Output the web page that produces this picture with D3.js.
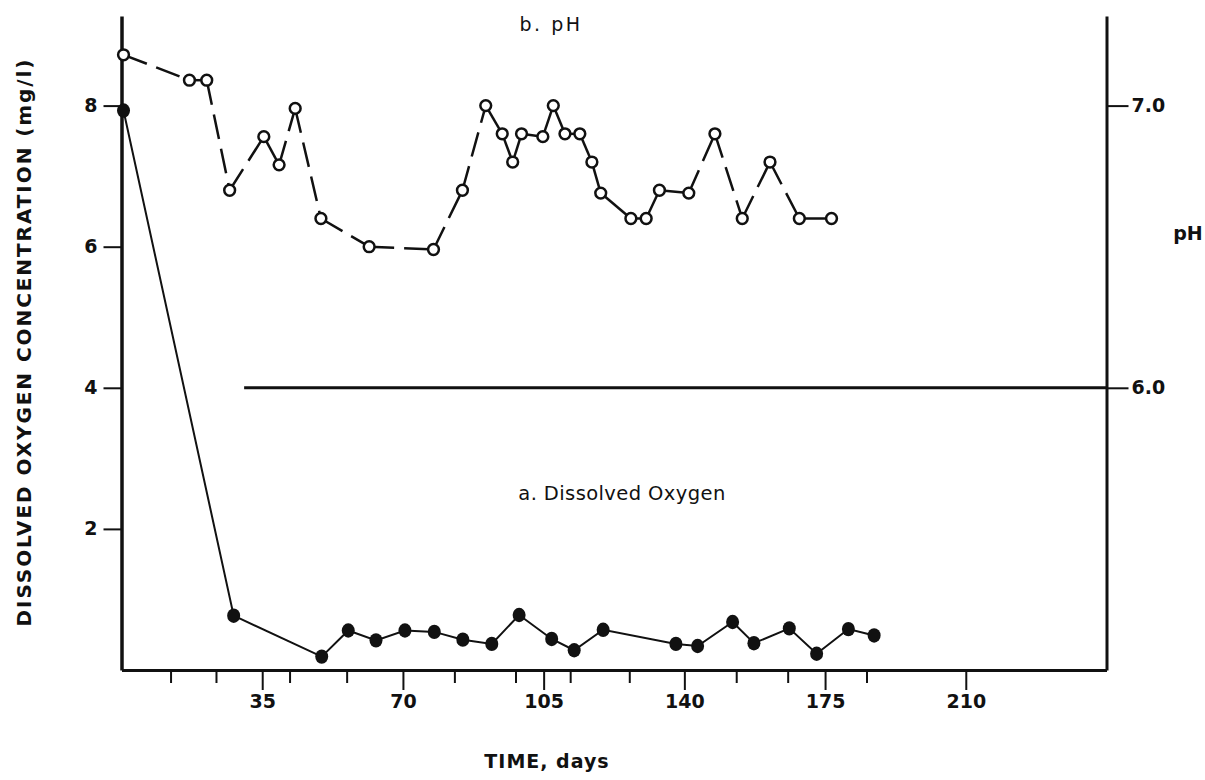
<!DOCTYPE html>
<html>
<head>
<meta charset="utf-8">
<script src="https://cdn.jsdelivr.net/npm/d3@7"></script>
<style>
  html, body { margin: 0; padding: 0; background: #fff; }
  svg { display: block; }
  text { fill: #111; }
</style>
</head>
<body>
<script>
// Sampling days and measurements
const doDays = [0.5, 27.9, 49.8, 56.4, 63.3, 70.5, 77.8, 84.9, 92.1, 98.9, 107.0, 112.6, 119.8, 137.9, 143.3, 152.0, 157.3, 166.1, 172.9, 180.8, 187.2];
const doValues = [7.93, 0.77, 0.19, 0.56, 0.42, 0.56, 0.54, 0.43, 0.37, 0.78, 0.44, 0.28, 0.57, 0.37, 0.34, 0.68, 0.38, 0.59, 0.23, 0.58, 0.49];

const phDays = [0.5, 16.9, 21.2, 26.9, 35.4, 39.2, 43.2, 49.6, 61.6, 77.6, 84.8, 90.6, 94.7, 97.3, 99.5, 104.8, 107.4, 110.3, 114.0, 117.0, 119.2, 126.7, 130.5, 133.8, 141.1, 147.6, 154.4, 161.3, 168.6, 176.6];
const phValues = [7.18, 7.09, 7.09, 6.70, 6.89, 6.79, 6.99, 6.60, 6.50, 6.49, 6.70, 7.00, 6.90, 6.80, 6.90, 6.89, 7.00, 6.90, 6.90, 6.80, 6.69, 6.60, 6.60, 6.70, 6.69, 6.90, 6.60, 6.80, 6.60, 6.60];

// Axis ticks
const dayTicks = [35, 70, 105, 140, 175, 210];
const dayMinorTicks = [12.2, 23.5, 41.8, 56, 82.8, 98, 111.6, 126.3, 152.9, 165.7, 185.3];
const doTicks = [2, 4, 6, 8];
const phTicks = [6.0, 7.0];
const phReference = 6.0;
const phReferenceStart = 30.5;

const W = 1205, H = 780;
const svg = d3.select("body").append("svg").attr("width", W).attr("height", H);

const x = d3.scaleLinear().domain([0, 245]).range([121.5, 1106.5]);
const yDO = d3.scaleLinear().domain([0, 9.27]).range([670, 16]);
const yPH = d3.scaleLinear().domain([5, 5 + 9.27 / 4]).range([670, 16]);

const FONT = "DejaVu Sans, sans-serif";

// Left axis: dissolved oxygen
const gL = svg.append("g").attr("transform", `translate(${x(0)},0)`)
  .call(d3.axisLeft(yDO).tickValues(doTicks).tickSize(18).tickSizeOuter(0).tickPadding(6).tickFormat(d3.format("d")));
gL.select(".domain").attr("stroke", "#111").attr("stroke-width", 3.5);
gL.selectAll(".tick line").attr("stroke", "#111").attr("stroke-width", 2);
gL.selectAll(".tick text").attr("font-family", FONT).attr("font-weight", "bold").attr("font-size", 19).attr("fill", "#111");

// Right axis: pH
const gR = svg.append("g").attr("transform", `translate(${x(245)},0)`)
  .call(d3.axisRight(yPH).tickValues(phTicks).tickSize(22).tickSizeOuter(0).tickPadding(3).tickFormat(d3.format(".1f")));
gR.select(".domain").attr("stroke", "#111").attr("stroke-width", 3);
gR.selectAll(".tick line").attr("stroke", "#111").attr("stroke-width", 2);
gR.selectAll(".tick text").attr("font-family", FONT).attr("font-weight", "bold").attr("font-size", 19).attr("fill", "#111");

// Bottom axis: time in days
const gB = svg.append("g").attr("transform", `translate(0,${yDO(0)})`)
  .call(d3.axisBottom(x).tickValues(dayTicks).tickSize(20).tickSizeOuter(0).tickPadding(5).tickFormat(d3.format("d")));
gB.select(".domain").attr("stroke", "#111").attr("stroke-width", 3.2);
gB.selectAll(".tick line").attr("stroke", "#111").attr("stroke-width", 2);
gB.selectAll(".tick text").attr("font-family", FONT).attr("font-weight", "bold").attr("font-size", 19).attr("fill", "#111");

const gBm = svg.append("g").attr("transform", `translate(0,${yDO(0)})`)
  .call(d3.axisBottom(x).tickValues(dayMinorTicks).tickSize(13).tickSizeOuter(0).tickFormat(""));
gBm.select(".domain").remove();
gBm.selectAll(".tick line").attr("stroke", "#111").attr("stroke-width", 2);

// pH 6.0 reference line
svg.append("line")
  .attr("x1", x(phReferenceStart)).attr("x2", x(245))
  .attr("y1", yPH(phReference)).attr("y2", yPH(phReference))
  .attr("stroke", "#111").attr("stroke-width", 3);

// Dissolved oxygen series
const doPts = doDays.map((d, i) => [x(d), yDO(doValues[i])]);
svg.append("path")
  .attr("d", d3.line()(doPts))
  .attr("fill", "none").attr("stroke", "#111").attr("stroke-width", 2);
svg.append("g").selectAll("ellipse").data(doPts).join("ellipse")
  .attr("cx", d => d[0]).attr("cy", d => d[1])
  .attr("rx", 6.5).attr("ry", 7.2)
  .attr("fill", "#111");

// pH series: long gaps between samples are drawn dashed
const phPts = phDays.map((d, i) => [x(d), yPH(phValues[i])]);
const segs = d3.pairs(phPts);
svg.append("g").selectAll("line").data(segs).join("line")
  .attr("x1", d => d[0][0]).attr("y1", d => d[0][1])
  .attr("x2", d => d[1][0]).attr("y2", d => d[1][1])
  .attr("stroke", "#111").attr("stroke-width", 2.5)
  .attr("stroke-dasharray", d => {
    const len = Math.hypot(d[1][0] - d[0][0], d[1][1] - d[0][1]);
    return len > 45 ? "25,10" : null;
  });
svg.append("g").selectAll("circle").data(phPts).join("circle")
  .attr("cx", d => d[0]).attr("cy", d => d[1])
  .attr("r", 5.4)
  .attr("fill", "#fff").attr("stroke", "#111").attr("stroke-width", 2.5);

// Labels
svg.append("text")
  .attr("x", 551).attr("y", 31)
  .attr("text-anchor", "middle")
  .attr("font-family", FONT).attr("font-size", 19).attr("letter-spacing", 2.5)
  .text("b. pH");

svg.append("text")
  .attr("x", 622).attr("y", 500)
  .attr("text-anchor", "middle")
  .attr("font-family", FONT).attr("font-size", 19.5).attr("letter-spacing", 0.4)
  .text("a. Dissolved Oxygen");

svg.append("text")
  .attr("x", 547).attr("y", 768)
  .attr("text-anchor", "middle")
  .attr("font-family", FONT).attr("font-weight", "bold").attr("font-size", 19).attr("letter-spacing", 1)
  .text("TIME, days");

svg.append("text")
  .attr("x", 1188).attr("y", 240)
  .attr("text-anchor", "middle")
  .attr("font-family", FONT).attr("font-weight", "bold").attr("font-size", 19)
  .text("pH");

svg.append("text")
  .attr("transform", "translate(31,343) rotate(-90)")
  .attr("text-anchor", "middle")
  .attr("font-family", FONT).attr("font-weight", "bold").attr("font-size", 20)
  .attr("textLength", 567).attr("lengthAdjust", "spacing")
  .text("DISSOLVED OXYGEN CONCENTRATION (mg/l)");
</script>
</body>
</html>
